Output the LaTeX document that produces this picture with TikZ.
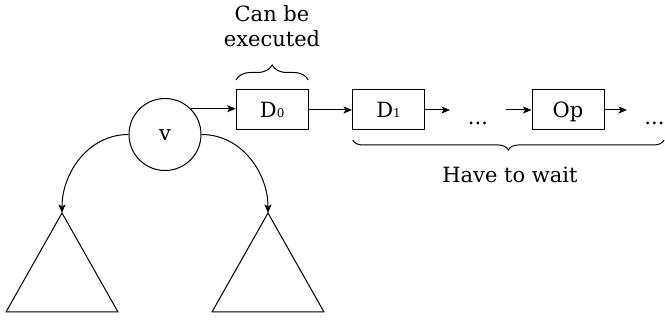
\documentclass[tikz,border=0pt]{standalone}
\usepackage{fontspec}
\setmainfont{DejaVu Serif}
\usetikzlibrary{arrows.meta,decorations.pathreplacing}
\begin{document}
\begin{tikzpicture}[x=1pt,y=-1pt,
  line width=1pt,
  every node/.style={font=\fontsize{21pt}{25pt}\selectfont},
  arr/.style={-{Stealth[length=8.5pt,width=7pt,inset=2pt]}},
  box/.style={draw,rectangle,minimum width=72pt,minimum height=40pt,inner sep=0pt,text height=15.3pt,text depth=0pt},
  vnode/.style={draw,circle,minimum size=72pt,inner sep=0pt,text height=12.4pt,text depth=0pt},
  brc/.style={decorate,decoration={brace,amplitude=#1}},
  lbl/.style={anchor=base,inner sep=0pt}]
\useasboundingbox (0,0) rectangle (665,320);
% nodes
\node[vnode] (v) at (165,134.5) {v};
\node[box] (D0) at (272.2,110) {D{\fontsize{12pt}{12pt}\selectfont 0}};
\node[box] (D1) at (388.5,110) {D{\fontsize{12pt}{12pt}\selectfont 1}};
\node[box] (Op) at (568,110) {Op};
\node[lbl] (dots1) at (478,125) {...};
\node[lbl] (dots2) at (654.5,125) {...};
\node[lbl,align=center] (can) at (272,46.7) {Can be\\executed};
\node[lbl] (wait) at (510,182.3) {Have to wait};
% free ends
\coordinate (e1) at (450,110);
\coordinate (s2) at (505.7,110);
\coordinate (e3) at (627,110);
\coordinate (tl) at (62,213);
\coordinate (tr) at (268,213);
% triangles
\draw (tl) -- (6,312) -- (118,312) -- cycle;
\draw (tr) -- (212,312) -- (324,312) -- cycle;
% connectors
\draw[arr] (v.45) -- (v.45 -| D0.west);
\draw[arr] (D0) -- (D1);
\draw[arr] (D1.east) -- (e1);
\draw[arr] (s2) -- (Op.west);
\draw[arr] (Op.east) -- (e3);
\draw[arr] (v.west) to[out=180,in=90] (tl);
\draw[arr] (v.east) to[out=0,in=90] (tr);
% braces
\draw[brc=15pt] (236,80) -- (308.3,80);
\draw[brc=10pt] (664,140) -- (352.7,140);
\end{tikzpicture}
\end{document}
